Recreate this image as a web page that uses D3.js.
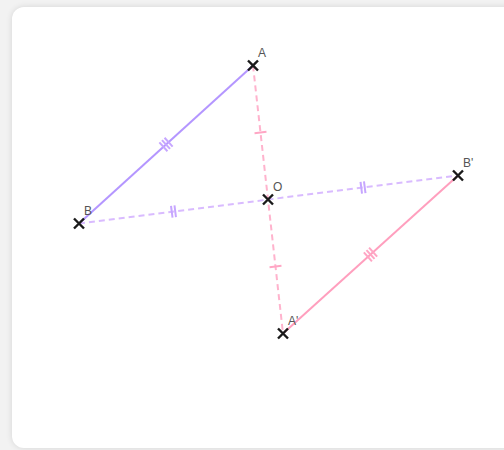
<!DOCTYPE html>
<html>
<head>
<meta charset="utf-8">
<script src="https://cdn.jsdelivr.net/npm/d3@7"></script>
<style>
  html, body { margin: 0; padding: 0; background: #f2f2f2; overflow: hidden; }
  #card {
    position: absolute; left: 12px; top: 7px; width: 510px; height: 441px;
    background: #fff; border-radius: 12px;
    box-shadow: 0 0 6px rgba(0,0,0,0.12);
  }
  svg { position: absolute; left: 0; top: 0; }
  text { font-family: "Liberation Sans", Arial, sans-serif; }
</style>
</head>
<body>
<div id="card"></div>
<svg id="fig" width="504" height="450"></svg>
<script>
// points in figure units (O at origin, y up)
var names  = ["A", "B", "O", "A'", "B'"];
var xs     = [-1.5, -18.9, 0, 1.5, 19.0];
var ys     = [13.4, -2.4, 0, -13.4, 2.4];

// segments: [from, to, kind]
var segments = [
  ["A", "B", "solidP"],
  ["A'", "B'", "solidK"],
  ["A", "A'", "dashK"],
  ["B", "B'", "dashP"]
];
// equal-length marks: [from, to, count, colour kind]
var marks = [
  ["A", "O", 1, "K"], ["O", "A'", 1, "K"],
  ["B", "O", 2, "P"], ["O", "B'", 2, "P"],
  ["A", "B", 3, "P"], ["A'", "B'", 3, "K"]
];

var colors = {
  solidP: "#b496ff", solidK: "#ff9fbe",
  dashP: "#d9bbff", dashK: "#ffb3cd",
  P: "#c6a6ff", K: "#ffa6c4"
};

var x = d3.scaleLinear().domain([-20, 20]).range([68, 468]);
var y = d3.scaleLinear().domain([-20, 20]).range([399.5, -0.5]);

var pts = {};
names.forEach(function(n, i){ pts[n] = {x: x(xs[i]), y: y(ys[i])}; });

var svg = d3.select("#fig");

svg.selectAll(".seg").data(segments).enter().append("line")
  .attr("class", "seg")
  .attr("x1", function(d){ return pts[d[0]].x; })
  .attr("y1", function(d){ return pts[d[0]].y; })
  .attr("x2", function(d){ return pts[d[1]].x; })
  .attr("y2", function(d){ return pts[d[1]].y; })
  .attr("stroke", function(d){ return colors[d[2]]; })
  .attr("stroke-width", 2)
  .attr("stroke-dasharray", function(d){ return d[2].indexOf("dash") == 0 ? "6,4" : null; });

// tick marks at segment midpoints
marks.forEach(function(m){
  var p = pts[m[0]], q = pts[m[1]];
  var mx = (p.x + q.x) / 2, my = (p.y + q.y) / 2;
  var len = Math.hypot(q.x - p.x, q.y - p.y);
  var ux = (q.x - p.x) / len, uy = (q.y - p.y) / len;
  var nx = -uy, ny = ux;
  for (var k = 0; k < m[2]; k++) {
    var off = (k - (m[2] - 1) / 2) * 3.5;
    var cx = mx + ux * off, cy = my + uy * off;
    svg.append("line")
      .attr("x1", cx - nx * 6).attr("y1", cy - ny * 6)
      .attr("x2", cx + nx * 6).attr("y2", cy + ny * 6)
      .attr("stroke", colors[m[3]])
      .attr("stroke-width", 2);
  }
});

// crosses
var s = 5;
names.forEach(function(n){
  var p = pts[n];
  svg.append("path")
    .attr("d", "M" + (p.x - s) + "," + (p.y - s) + "L" + (p.x + s) + "," + (p.y + s) +
               "M" + (p.x - s) + "," + (p.y + s) + "L" + (p.x + s) + "," + (p.y - s))
    .attr("stroke", "#1a1a1a")
    .attr("stroke-width", 2.4);
});

// labels
names.forEach(function(n){
  var p = pts[n];
  svg.append("text")
    .attr("x", p.x + 5).attr("y", p.y - 9)
    .attr("font-size", 12)
    .attr("fill", "#555")
    .text(n);
});
</script>
</body>
</html>
